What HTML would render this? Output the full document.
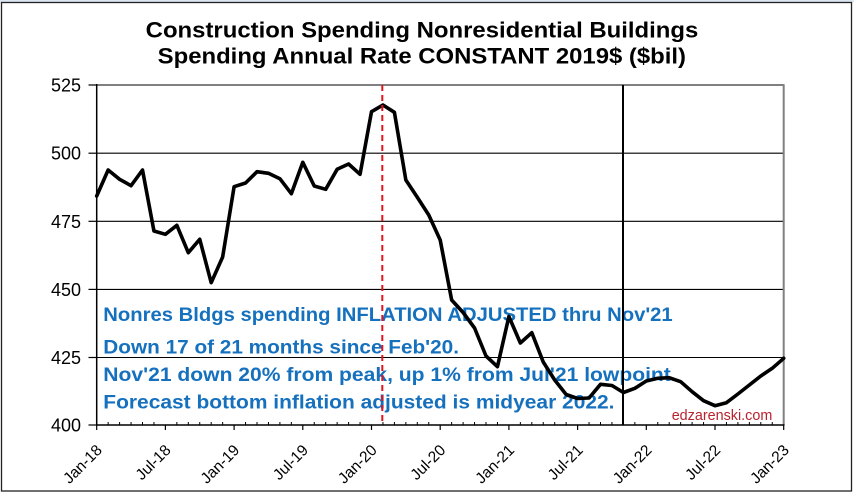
<!DOCTYPE html>
<html>
<head>
<meta charset="utf-8">
<style>
html,body{margin:0;padding:0;background:#fff;}
svg{display:block;}
</style>
</head>
<body>
<svg width="854" height="493" viewBox="0 0 854 493" xmlns="http://www.w3.org/2000/svg">
  <rect x="0" y="0" width="854" height="493" fill="#ffffff"/>
  <rect x="0" y="0" width="854" height="2.5" fill="#dbe6f1"/>
  <rect x="1.5" y="2.5" width="850" height="488.5" fill="#ffffff" stroke="#222" stroke-width="1.3"/>

  <!-- Title -->
  <g font-family="Liberation Sans, Arial, sans-serif" font-weight="bold" font-size="22" fill="#000">
    <text x="145.7" y="37.3" textLength="552.6" lengthAdjust="spacingAndGlyphs">Construction Spending Nonresidential Buildings</text>
    <text x="157.7" y="63.3" textLength="528.3" lengthAdjust="spacingAndGlyphs">Spending Annual Rate CONSTANT 2019$ ($bil)</text>
  </g>

  <!-- gridlines -->
  <g stroke="#000" stroke-width="1.1">
    <line x1="96.7" y1="153.2" x2="783.7" y2="153.2"/>
    <line x1="96.7" y1="221.3" x2="783.7" y2="221.3"/>
    <line x1="96.7" y1="289.4" x2="783.7" y2="289.4"/>
    <line x1="96.7" y1="357.5" x2="783.7" y2="357.5"/>
  </g>
  <!-- plot border top/right gray -->
  <line x1="96.7" y1="85" x2="784.5" y2="85" stroke="#808080" stroke-width="2"/>
  <line x1="783.7" y1="85" x2="783.7" y2="425" stroke="#808080" stroke-width="2"/>

  <!-- annotation text -->
  <g font-family="Liberation Sans, Arial, sans-serif" font-weight="bold" font-size="19" fill="#1570be">
    <text x="103.3" y="321" textLength="569.4" lengthAdjust="spacingAndGlyphs">Nonres Bldgs spending INFLATION ADJUSTED thru Nov'21</text>
    <text x="103.3" y="353.3" textLength="355.7" lengthAdjust="spacingAndGlyphs">Down 17 of 21 months since Feb'20.</text>
    <text x="103.3" y="381" textLength="573.4" lengthAdjust="spacingAndGlyphs">Nov'21 down 20% from peak, up 1% from Jul'21 lowpoint.</text>
    <text x="103.3" y="408.5" textLength="511.2" lengthAdjust="spacingAndGlyphs">Forecast bottom inflation adjusted is midyear 2022.</text>
  </g>
  <text x="671.7" y="420" font-family="Liberation Sans, Arial, sans-serif" font-size="14.5" fill="#b8222e" textLength="100.6" lengthAdjust="spacingAndGlyphs">edzarenski.com</text>

  <!-- series -->
  <polyline fill="none" stroke="#000" stroke-width="3.6" stroke-linejoin="round" stroke-linecap="round"
    points="96.7,196 108.15,170 119.6,179.3 131.05,185.7 142.5,170 153.95,231 165.4,234.3 176.85,225.3 188.3,252.7 199.75,239.3 211.2,282.7 222.65,257 234.1,186.7 245.55,183 257,171.7 268.45,173.3 279.9,178.7 291.35,193.7 302.8,162.3 314.25,186 325.7,189.3 337.15,169.3 348.6,164 360.05,174.3 371.5,111.7 382.95,105 394.4,112.3 405.85,180 417.3,197.3 428.75,215 440.2,240 451.65,300 463.1,312.5 474.55,328 486,356 497.45,366.7 508.9,316.5 520.35,343 531.8,332.7 543.25,362 554.7,380 566.15,394.5 577.6,398.5 589.05,398 600.5,384.3 611.95,385.5 623.4,392.5 634.85,388.3 646.3,381 657.75,378.3 669.2,377.7 680.65,381.7 692.1,391.7 703.55,400.7 715,405.7 726.45,402.7 737.9,394 749.35,385 760.8,376 772.25,368.3 783.7,358.3"/>

  <!-- red dashed Feb-20 -->
  <line x1="382.3" y1="85" x2="382.3" y2="425" stroke="#e0141e" stroke-width="2" stroke-dasharray="6,4"/>
  <!-- Nov-21 vertical -->
  <line x1="623" y1="85" x2="623" y2="425" stroke="#000" stroke-width="2"/>

  <!-- axes -->
  <line x1="96.7" y1="84" x2="96.7" y2="425" stroke="#000" stroke-width="1.5"/>
  <line x1="96" y1="425" x2="784.5" y2="425" stroke="#000" stroke-width="1.5"/>

  <!-- y ticks -->
  <g stroke="#000" stroke-width="1.2">
    <line x1="88.5" y1="85" x2="96.7" y2="85"/>
    <line x1="88.5" y1="153.2" x2="96.7" y2="153.2"/>
    <line x1="88.5" y1="221.3" x2="96.7" y2="221.3"/>
    <line x1="88.5" y1="289.4" x2="96.7" y2="289.4"/>
    <line x1="88.5" y1="357.5" x2="96.7" y2="357.5"/>
    <line x1="88.5" y1="425" x2="96.7" y2="425"/>
  </g>
  <!-- y labels -->
  <g font-family="Liberation Sans, Arial, sans-serif" font-size="18" fill="#000" text-anchor="end">
    <text x="81" y="91.5">525</text>
    <text x="81" y="159.7">500</text>
    <text x="81" y="227.8">475</text>
    <text x="81" y="295.9">450</text>
    <text x="81" y="364">425</text>
    <text x="81" y="431.5">400</text>
  </g>

  <!-- x minor ticks -->
  <g stroke="#000" stroke-width="1">
    <line x1="108.15" y1="422" x2="108.15" y2="425"/><line x1="119.6" y1="422" x2="119.6" y2="425"/><line x1="131.05" y1="422" x2="131.05" y2="425"/><line x1="142.5" y1="422" x2="142.5" y2="425"/><line x1="153.95" y1="422" x2="153.95" y2="425"/>
    <line x1="176.85" y1="422" x2="176.85" y2="425"/><line x1="188.3" y1="422" x2="188.3" y2="425"/><line x1="199.75" y1="422" x2="199.75" y2="425"/><line x1="211.2" y1="422" x2="211.2" y2="425"/><line x1="222.65" y1="422" x2="222.65" y2="425"/>
    <line x1="245.55" y1="422" x2="245.55" y2="425"/><line x1="257" y1="422" x2="257" y2="425"/><line x1="268.45" y1="422" x2="268.45" y2="425"/><line x1="279.9" y1="422" x2="279.9" y2="425"/><line x1="291.35" y1="422" x2="291.35" y2="425"/>
    <line x1="314.25" y1="422" x2="314.25" y2="425"/><line x1="325.7" y1="422" x2="325.7" y2="425"/><line x1="337.15" y1="422" x2="337.15" y2="425"/><line x1="348.6" y1="422" x2="348.6" y2="425"/><line x1="360.05" y1="422" x2="360.05" y2="425"/>
    <line x1="382.95" y1="422" x2="382.95" y2="425"/><line x1="394.4" y1="422" x2="394.4" y2="425"/><line x1="405.85" y1="422" x2="405.85" y2="425"/><line x1="417.3" y1="422" x2="417.3" y2="425"/><line x1="428.75" y1="422" x2="428.75" y2="425"/>
    <line x1="451.65" y1="422" x2="451.65" y2="425"/><line x1="463.1" y1="422" x2="463.1" y2="425"/><line x1="474.55" y1="422" x2="474.55" y2="425"/><line x1="486" y1="422" x2="486" y2="425"/><line x1="497.45" y1="422" x2="497.45" y2="425"/>
    <line x1="520.35" y1="422" x2="520.35" y2="425"/><line x1="531.8" y1="422" x2="531.8" y2="425"/><line x1="543.25" y1="422" x2="543.25" y2="425"/><line x1="554.7" y1="422" x2="554.7" y2="425"/><line x1="566.15" y1="422" x2="566.15" y2="425"/>
    <line x1="589.05" y1="422" x2="589.05" y2="425"/><line x1="600.5" y1="422" x2="600.5" y2="425"/><line x1="611.95" y1="422" x2="611.95" y2="425"/><line x1="623.4" y1="422" x2="623.4" y2="425"/><line x1="634.85" y1="422" x2="634.85" y2="425"/>
    <line x1="657.75" y1="422" x2="657.75" y2="425"/><line x1="669.2" y1="422" x2="669.2" y2="425"/><line x1="680.65" y1="422" x2="680.65" y2="425"/><line x1="692.1" y1="422" x2="692.1" y2="425"/><line x1="703.55" y1="422" x2="703.55" y2="425"/>
    <line x1="726.45" y1="422" x2="726.45" y2="425"/><line x1="737.9" y1="422" x2="737.9" y2="425"/><line x1="749.35" y1="422" x2="749.35" y2="425"/><line x1="760.8" y1="422" x2="760.8" y2="425"/><line x1="772.25" y1="422" x2="772.25" y2="425"/>
  </g>
  <!-- x major ticks -->
  <g stroke="#000" stroke-width="1.2">
    <line x1="96.7" y1="425" x2="96.7" y2="430"/><line x1="165.4" y1="425" x2="165.4" y2="430"/><line x1="234.1" y1="425" x2="234.1" y2="430"/><line x1="302.8" y1="425" x2="302.8" y2="430"/><line x1="371.5" y1="425" x2="371.5" y2="430"/><line x1="440.2" y1="425" x2="440.2" y2="430"/><line x1="508.9" y1="425" x2="508.9" y2="430"/><line x1="577.6" y1="425" x2="577.6" y2="430"/><line x1="646.3" y1="425" x2="646.3" y2="430"/><line x1="715" y1="425" x2="715" y2="430"/><line x1="783.7" y1="425" x2="783.7" y2="430"/>
  </g>
  <!-- x labels -->
  <g font-family="Liberation Sans, Arial, sans-serif" font-size="15.5" fill="#000" text-anchor="end">
    <text transform="translate(103,451) rotate(-45)">Jan-18</text>
    <text transform="translate(171.7,451) rotate(-45)">Jul-18</text>
    <text transform="translate(240.4,451) rotate(-45)">Jan-19</text>
    <text transform="translate(309.1,451) rotate(-45)">Jul-19</text>
    <text transform="translate(377.8,451) rotate(-45)">Jan-20</text>
    <text transform="translate(446.5,451) rotate(-45)">Jul-20</text>
    <text transform="translate(515.2,451) rotate(-45)">Jan-21</text>
    <text transform="translate(583.9,451) rotate(-45)">Jul-21</text>
    <text transform="translate(652.6,451) rotate(-45)">Jan-22</text>
    <text transform="translate(721.3,451) rotate(-45)">Jul-22</text>
    <text transform="translate(790,451) rotate(-45)">Jan-23</text>
  </g>
</svg>
</body>
</html>
